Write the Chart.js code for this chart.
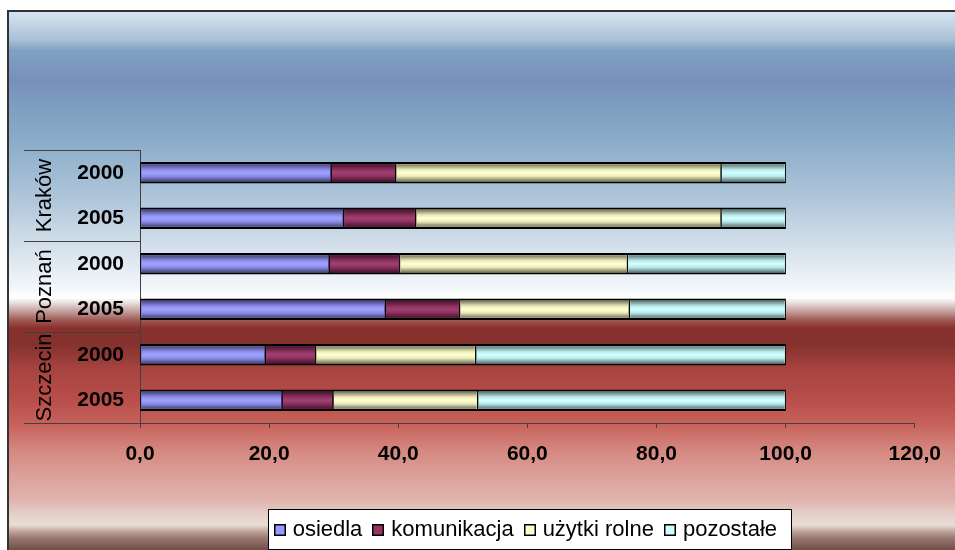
<!DOCTYPE html>
<html><head><meta charset="utf-8">
<script src="https://cdn.jsdelivr.net/npm/chart.js@4"></script>
<style>html,body{margin:0;padding:0;background:#fff;overflow:hidden}canvas{display:block}</style>
</head><body>
<canvas id="c" width="955" height="550"></canvas>
<script>
// ---- data ----
const cities = ['Kraków', 'Poznań', 'Szczecin'];
const years = ['2000', '2005'];
const seriesNames = ['osiedla', 'komunikacja', 'użytki rolne', 'pozostałe'];
const osiedla     = [29.6, 31.5, 29.3, 38.0, 19.4, 22.0];
const komunikacja = [10.0, 11.2, 10.9, 11.5, 7.8, 7.9];
const uzytkiRolne = [50.4, 47.3, 35.3, 26.3, 24.8, 22.4];
const pozostale   = [10.0, 10.0, 24.5, 24.2, 48.0, 47.7];
const xMin = 0, xMax = 120, xStep = 20;

// ---- build ----
const labels = cities.flatMap(() => years.slice());
const seriesValues = [osiedla, komunikacja, uzytkiRolne, pozostale];
const seriesColors = ['#9999ff', '#993366', '#ffffcc', '#ccffff'];
const FONT = '"Liberation Sans", Arial, sans-serif';
Chart.defaults.font.family = FONT;

const datasets = seriesNames.map((n, i) => ({
  label: n,
  data: seriesValues[i],
  backgroundColor: seriesColors[i],
  borderColor: '#000',
  borderWidth: {top: 2, bottom: 2, left: 1, right: 1},
  borderSkipped: false,
  barThickness: 21
}));

function drawLegend(chart) {
  const ctx = chart.ctx;
  const ca = chart.chartArea;
  ctx.save();
  ctx.font = '22px ' + FONT;
  const box = 12, gapBT = 7, gapItem = 10;
  const widths = chart.data.datasets.map(d => ctx.measureText(d.label).width);
  const total = widths.reduce((a, w) => a + box + gapBT + w, 0) + gapItem * (widths.length - 1);
  const cx = (ca.left + ca.right) / 2 - 2;
  let x = cx - total / 2;
  const cy = 529;
  const fl = Math.round(x - 6), fr = Math.round(x + total + 14);
  ctx.fillStyle = '#fff';
  ctx.fillRect(fl, cy - 20, fr - fl, 40);
  ctx.strokeStyle = '#000';
  ctx.lineWidth = 1;
  ctx.strokeRect(fl + 0.5, cy - 20 + 0.5, fr - fl, 40);
  ctx.textBaseline = 'middle';
  ctx.textAlign = 'left';
  chart.data.datasets.forEach((d, i) => {
    const bx = Math.round(x), by = Math.round(cy - box / 2 + 1);
    ctx.fillStyle = d.backgroundColor;
    ctx.fillRect(bx, by, box, box);
    ctx.strokeStyle = '#000';
    ctx.lineWidth = 1.5;
    ctx.strokeRect(bx + 0.75, by + 0.75, box - 1.5, box - 1.5);
    ctx.fillStyle = '#000';
    ctx.fillText(d.label, x + box + gapBT, cy + 1);
    x += box + gapBT + widths[i] + gapItem;
  });
  ctx.restore();
}

const bgPlugin = {
  id: 'bgPlugin',
  beforeDraw(chart) {
    const ctx = chart.ctx;
    ctx.save();
    ctx.fillStyle = '#fff';
    ctx.fillRect(0, 0, chart.width, chart.height);
    const g = ctx.createLinearGradient(0, 10, 0, 550);
    const stops = [[11,'#d8e6f2'],[40,'#a9c0d6'],[50,'#80a2c2'],[80,'#7890bb'],[110,'#7fa0c2'],[140,'#8aacc8'],
      [200,'#b0c6da'],[250,'#d6e2ec'],[290,'#f5f8fb'],[298,'#ffffff'],[302,'#ece4e4'],[312,'#c09a98'],
      [320,'#a05a55'],[328,'#88302c'],[345,'#85322e'],[370,'#a84440'],[400,'#b84e4a'],[425,'#c8625c'],
      [450,'#d48880'],[478,'#dda29c'],[500,'#e0b4ae'],[515,'#e6d0ca'],[525,'#e8dcd4'],[531,'#c0a8a0'],
      [538,'#9a7870'],[545,'#806058'],[550,'#6e5048']];
    stops.forEach(([y, c]) => g.addColorStop((y - 10) / 540, c));
    ctx.fillStyle = g;
    ctx.fillRect(7, 10, chart.width - 7, chart.height - 10);
    ctx.fillStyle = '#333';
    ctx.fillRect(7, 10, chart.width - 7, 2);
    ctx.fillRect(7, 10, 2, chart.height - 10);
    ctx.restore();
  },
  afterDatasetsDraw(chart) {
    const ctx = chart.ctx;
    ctx.save();
    chart.data.datasets.forEach((ds, i) => {
      const meta = chart.getDatasetMeta(i);
      meta.data.forEach(el => {
        const p = el.getProps(['x', 'y', 'base', 'height'], true);
        const l = Math.min(p.x, p.base) + 1, r = Math.max(p.x, p.base) - 1;
        const t = p.y - p.height / 2 + 2, b = p.y + p.height / 2 - 2;
        const g = ctx.createLinearGradient(0, t, 0, b);
        g.addColorStop(0, 'rgba(0,0,0,0.55)');
        g.addColorStop(0.3, 'rgba(0,0,0,0.1)');
        g.addColorStop(0.5, 'rgba(255,255,255,0.06)');
        g.addColorStop(0.72, 'rgba(0,0,0,0.1)');
        g.addColorStop(1, 'rgba(0,0,0,0.55)');
        ctx.fillStyle = g;
        ctx.fillRect(l, t, r - l, b - t);
      });
    });
    ctx.restore();
  },
  afterDraw(chart) {
    const ctx = chart.ctx;
    const ys = chart.scales.y;
    const step = (ys.bottom - ys.top) / labels.length;
    ctx.save();
    ctx.strokeStyle = '#404040';
    ctx.lineWidth = 1;
    for (let gi = 0; gi <= cities.length; gi++) {
      const yy = Math.round(ys.top + gi * years.length * step) + 0.5;
      ctx.beginPath(); ctx.moveTo(24, yy); ctx.lineTo(ys.right, yy); ctx.stroke();
    }
    ctx.fillStyle = '#000';
    ctx.font = '22px ' + FONT;
    ctx.textAlign = 'center';
    ctx.textBaseline = 'alphabetic';
    cities.forEach((c, gi) => {
      const cy = ys.top + (gi + 0.5) * years.length * step;
      ctx.save();
      ctx.translate(51, cy);
      ctx.rotate(-Math.PI / 2);
      ctx.fillText(c, 0, 0);
      ctx.restore();
    });
    ctx.restore();
    drawLegend(chart);
  }
};

new Chart(document.getElementById('c'), {
  type: 'bar',
  data: {labels, datasets},
  plugins: [bgPlugin],
  options: {
    indexAxis: 'y',
    responsive: false,
    animation: false,
    devicePixelRatio: 1,
    layout: {padding: {left: 0, top: 150, right: 40, bottom: 0}},
    scales: {
      x: {
        stacked: true, min: xMin, max: xMax,
        ticks: {stepSize: xStep, color: '#000', font: {size: 21, weight: 'bold'}, padding: 14, maxRotation: 0,
          callback: v => v.toFixed(1).replace('.', ',')},
        grid: {display: true, drawOnChartArea: false, drawTicks: true, tickLength: 5, color: '#404040'},
        border: {display: true, color: '#404040', width: 1},
        afterFit: s => { s.height = 127; }
      },
      y: {
        stacked: true,
        ticks: {color: '#000', font: {size: 21, weight: 'bold'}, padding: 16},
        grid: {display: false, drawTicks: false},
        border: {display: true, color: '#404040', width: 1},
        afterFit: s => { s.width = 140; }
      }
    },
    plugins: {
      legend: {display: false},
      tooltip: {enabled: false}
    }
  }
});
</script>
</body></html>
